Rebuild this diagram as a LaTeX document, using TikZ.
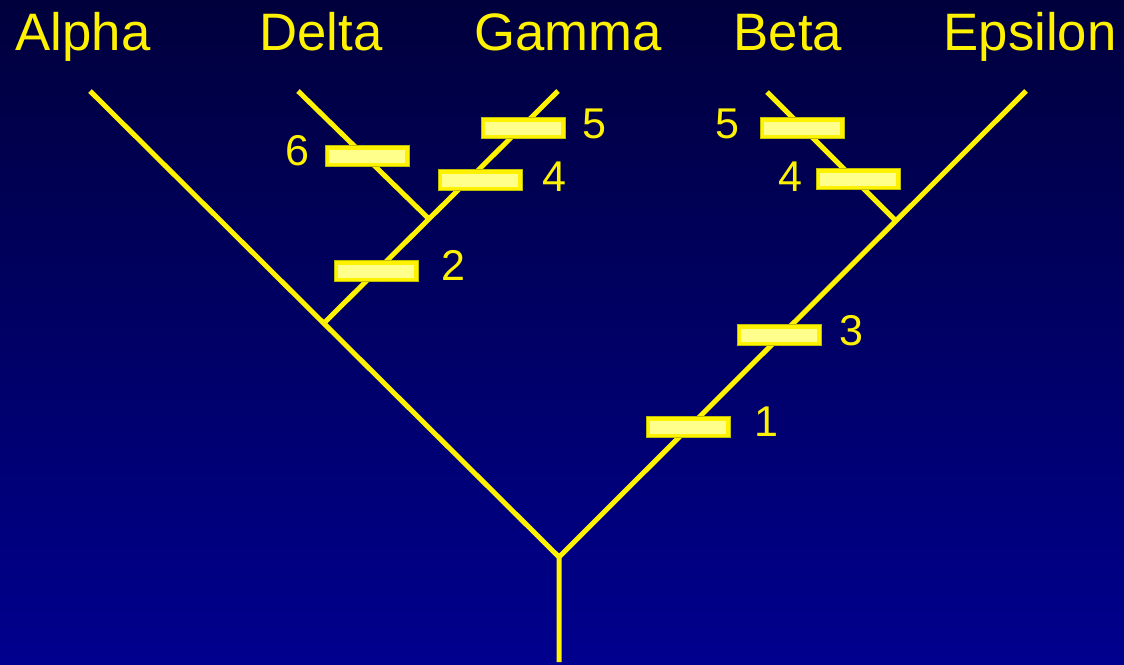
\documentclass[tikz,border=0pt]{standalone}
\usepackage{fontspec}
\setmainfont{Liberation Sans}
\usetikzlibrary{calc}

\definecolor{skytop}{RGB}{0,0,60}
\definecolor{skybottom}{RGB}{0,0,142}
\definecolor{barlight}{RGB}{255,255,140}
\definecolor{baredge}{RGB}{190,190,0}

\begin{document}
\begin{tikzpicture}[x=0.02cm, y=-0.02cm]

% Define styles
\tikzset{
    branch/.style={yellow, line width=0.1cm},
    taxon/.style={text=yellow, anchor=base, font=\fontsize{30}{36}\selectfont},
    change/.style={text=yellow, anchor=base, font=\fontsize{24.5}{30}\selectfont},
    trait/.style={draw=baredge, line width=0.5pt, fill=yellow, inner sep=0pt,
        minimum width=1.68cm, minimum height=0.42cm,
        path picture={\fill[barlight] ([shift={(0.08cm,0.08cm)}]path picture bounding box.south west)
            rectangle ([shift={(-0.08cm,-0.08cm)}]path picture bounding box.north east);}}
}

% background
\shade[top color=skytop, bottom color=skybottom] (0,0) rectangle (1124,664);
\useasboundingbox (0,0) rectangle (1124,664);

%root and stem
\coordinate (ROOT) at (559,557);
\coordinate (STEM) at (559,662);

%inner nodes
\coordinate (DG) at (324,323);
\coordinate (DGX) at (428,218);
\coordinate (BE) at (895,220);

%tips
\coordinate (ALPHA) at (90,91);
\coordinate (DELTA) at (298,91);
\coordinate (GAMMA) at (558,91);
\coordinate (BETA) at (767,92);
\coordinate (EPS) at (1026,91);

% Branches
\draw[branch] (STEM) -- (ROOT) -- (ALPHA);
\draw[branch] (ROOT) -- (EPS);
\draw[branch] (DG) -- (GAMMA);
\draw[branch] (DGX) -- (DELTA);
\draw[branch] (BE) -- (BETA);

% Taxon names
\node[taxon] (NALPHA) at (83,50) {Alpha};
\node[taxon] (NDELTA) at (321,50) {Delta};
\node[taxon] (NGAMMA) at (568,50) {Gamma};
\node[taxon] (NBETA) at (788,50) {Beta};
\node[taxon] (NEPS) at (1030,50) {Epsilon};

% Character changes
\node[trait] (T1) at (688,427) {};
\node[change] at (766,436) {1};

\node[trait] (T3) at (779,335) {};
\node[change] at (851,345) {3};

\node[trait] (T2) at (376,271) {};
\node[change] at (453,280) {2};

\node[trait] (T6) at (367,156) {};
\node[change] at (297,165) {6};

\node[trait] (T4L) at (480,180) {};
\node[change] at (554,191) {4};

\node[trait] (T5L) at (523,128) {};
\node[change] at (594,138) {5};

\node[trait] (T5R) at (802,128) {};
\node[change] at (727,138) {5};

\node[trait] (T4R) at (858,179) {};
\node[change] at (790,191) {4};

\end{tikzpicture}
\end{document}
